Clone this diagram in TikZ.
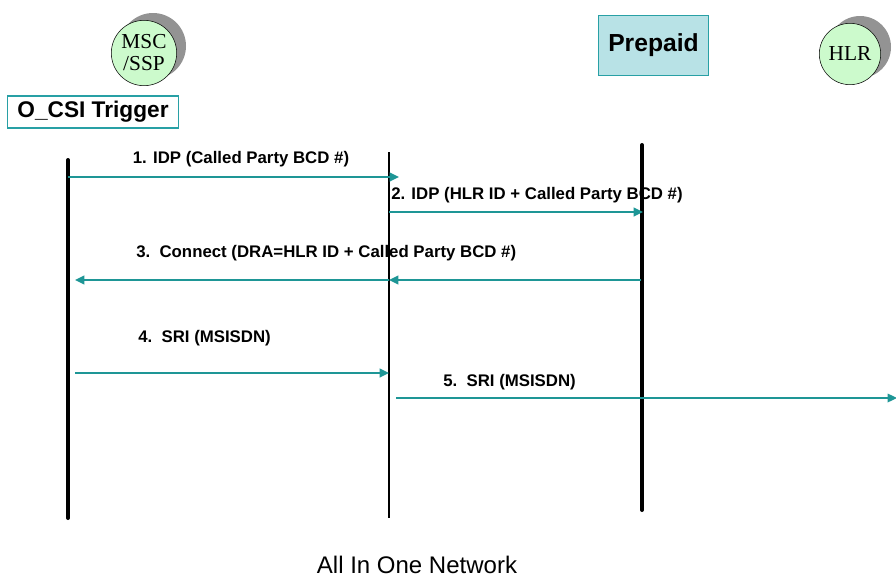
\documentclass[tikz,border=0pt]{standalone}
\usepackage{fontspec}
\setmainfont{Liberation Sans}
\newfontfamily\seriffont{Liberation Serif}
\usetikzlibrary{arrows.meta}
\definecolor{msgteal}{RGB}{30,150,150}
\definecolor{boxteal}{RGB}{40,160,165}
\definecolor{prepfill}{RGB}{184,226,230}
\definecolor{entgreen}{RGB}{204,250,204}

\begin{document}
\begin{tikzpicture}[x=0.75pt,y=-0.75pt,
  msg/.style={draw=msgteal,line width=1.6pt,-{Triangle[length=7pt,width=6.5pt]}},
  msglab/.style={font=\bfseries\fontsize{12.6}{14}\selectfont,inner sep=0pt},
  entity/.style={circle,draw,fill=entgreen,minimum size=49pt,inner sep=0pt,
    align=center,font=\seriffont\fontsize{16}{16.5}\selectfont}]
\useasboundingbox (0,0) rectangle (896,578);
% entities
\fill[gray!85] (153,46) circle (33);
\node[entity] (msc) at (144,53) {MSC\\/SSP};
\fill[gray!85] (860,47) circle (31);
\node[entity,minimum size=46pt] (hlr) at (850,54) {HLR};
\node[draw=boxteal,fill=prepfill,line width=0.8pt,minimum width=83pt,minimum height=45pt,
  font=\bfseries\fontsize{18.5}{20}\selectfont] (prep) at (653.5,45.5) {Prepaid};
\node[draw=boxteal,line width=0.8pt,minimum width=128pt,minimum height=24pt,
  font=\bfseries\fontsize{17}{18}\selectfont] (trig) at (93,112) {O\_CSI Trigger};
% lifelines
\coordinate (mscTop) at (68,160);  \coordinate (mscBot) at (68,518);
\coordinate (midTop) at (389,152); \coordinate (midBot) at (389,518);
\coordinate (prepTop) at (642,145); \coordinate (prepBot) at (642,510);
\draw[line width=3pt,line cap=round] (mscTop) -- (mscBot);
\draw[line width=0.9pt] (midTop) -- (midBot);
\draw[line width=3pt,line cap=round] (prepTop) -- (prepBot);
% messages
\foreach \nm/\x/\y in {a1s/68/177, a1e/399/177, a2s/389/212, a2e/643/212,
  a3s/641/280, a3m/389/280, a3e/75/280, a4s/75/373, a4e/389/373,
  a5s/396/398, a5e/897/398}
  \coordinate (\nm) at (\x,\y);
\draw[msg] (a1s) -- (a1e);
\draw[msg] (a2s) -- (a2e);
\draw[msg] (a3s) -- (a3m);
\draw[msg] (a3m) -- (a3e);
\draw[msg] (a4s) -- (a4e);
\draw[msg,line width=0.9pt] (a5s) -- (a5e);
\node[msglab] (l1) at (241,159) {1. IDP (Called Party BCD \#)};
\node[msglab,anchor=west] (l2) at (391,195) {2. IDP (HLR ID + Called Party BCD \#)};
\node[msglab,anchor=west] (l3) at (136,253) {3.\ \ Connect (DRA=HLR ID + Called Party BCD \#)};
\node[msglab,anchor=west] (l4) at (138,338) {4.\ \ SRI (MSISDN)};
\node[msglab,anchor=west] (l5) at (443,382) {5.\ \ SRI (MSISDN)};
\node[font=\fontsize{18}{20}\selectfont] (cap) at (417,565) {All In One Network};
\end{tikzpicture}
\end{document}
